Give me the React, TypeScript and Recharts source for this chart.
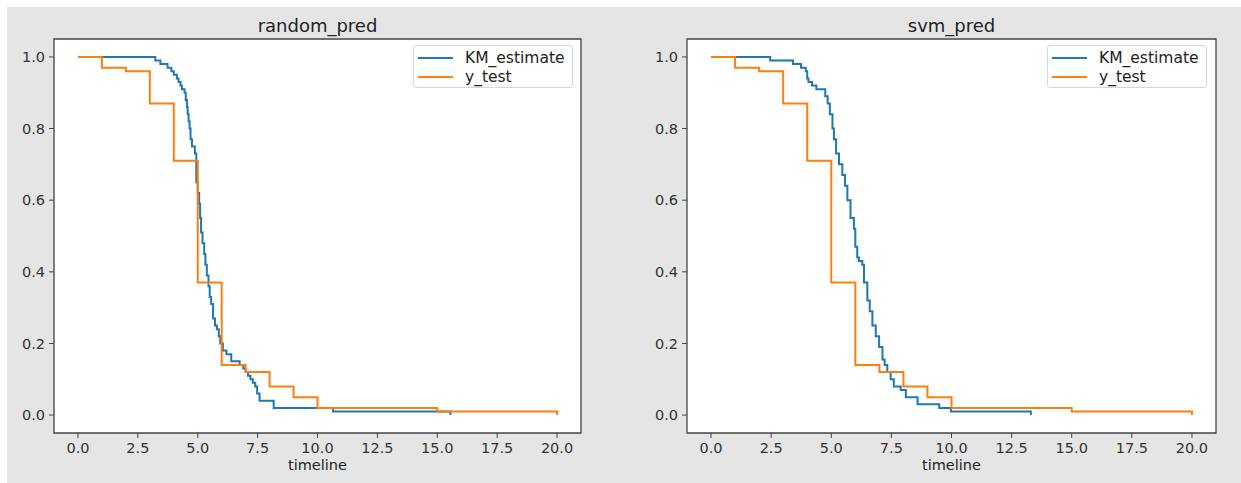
import { CartesianGrid, Legend, Line, LineChart, ReferenceArea, XAxis, YAxis } from 'recharts';

// y_test survival curve (same in both panels)
const yTestTime = [0, 1, 2, 3, 4, 5, 6, 7, 8, 9, 10, 15, 20];
const yTestSurv = [1.0, 0.97, 0.96, 0.87, 0.71, 0.37, 0.14, 0.12, 0.08, 0.05, 0.02, 0.01, 0.0];

// KM estimate from random forest predictions
const rfTime = [
  0, 3.23, 3.44, 3.74, 3.9, 4.0, 4.13, 4.2, 4.28, 4.34, 4.45, 4.5, 4.55, 4.58, 4.62, 4.66, 4.7,
  4.76, 4.88, 4.94, 5.0, 5.06, 5.1, 5.14, 5.2, 5.27, 5.32, 5.38, 5.45, 5.5, 5.56, 5.64, 5.72, 5.8,
  5.88, 5.94, 6.05, 6.2, 6.4, 6.75, 6.9, 7.0, 7.1, 7.2, 7.3, 7.4, 7.48, 7.58, 8.17, 10.65, 15.55,
];
const rfSurv = [
  1.0, 0.99, 0.98, 0.97, 0.96, 0.95, 0.94, 0.93, 0.92, 0.91, 0.9, 0.88, 0.86, 0.84, 0.82, 0.8, 0.77,
  0.75, 0.73, 0.65, 0.62, 0.59, 0.55, 0.51, 0.48, 0.45, 0.42, 0.39, 0.36, 0.33, 0.31, 0.27, 0.25, 0.24,
  0.22, 0.2, 0.18, 0.17, 0.15, 0.14, 0.13, 0.12, 0.11, 0.1, 0.09, 0.08, 0.06, 0.04, 0.02, 0.01, 0.0,
];

// KM estimate from svm predictions
const svmTime = [
  0, 2.46, 3.41, 3.74, 3.94, 4.0, 4.05, 4.2, 4.38, 4.75, 4.85, 4.94, 5.05, 5.11, 5.2, 5.32, 5.46,
  5.57, 5.67, 5.8, 5.94, 6.0, 6.08, 6.15, 6.29, 6.36, 6.5, 6.6, 6.71, 6.85, 6.99, 7.13, 7.22, 7.33,
  7.47, 7.6, 7.89, 8.1, 8.59, 9.49, 9.98, 13.3,
];
const svmSurv = [
  1.0, 0.99, 0.98, 0.97, 0.96, 0.94, 0.93, 0.92, 0.91, 0.89, 0.87, 0.84, 0.8, 0.77, 0.73, 0.7, 0.67,
  0.64, 0.6, 0.55, 0.52, 0.47, 0.44, 0.43, 0.42, 0.37, 0.32, 0.29, 0.25, 0.22, 0.19, 0.155, 0.14, 0.12,
  0.1, 0.08, 0.07, 0.05, 0.03, 0.02, 0.01, 0.0,
];

const xTicks = [0, 2.5, 5, 7.5, 10, 12.5, 15, 17.5, 20];
const yTicks = [0, 0.2, 0.4, 0.6, 0.8, 1.0];

const BLUE = '#1f77b4';
const ORANGE = '#ff7f0e';
const FONT = '"DejaVu Sans", sans-serif';
const TICK = { fontSize: 14.5, fill: '#333', fontFamily: FONT };

const toPoints = (t: number[], s: number[]) => t.map((x, i) => ({ x, y: s[i] }));

function LegendBox({ payload }: any) {
  return (
    <div
      style={{
        width: 160,
        height: 43,
        boxSizing: 'border-box',
        border: '1px solid #d6d6d6',
        borderRadius: 3,
        background: 'rgba(255,255,255,0.85)',
        padding: '2px 0 0 4px',
        fontFamily: FONT,
        fontSize: 15.5,
        color: '#222',
        textAlign: 'left',
      }}
    >
      {(payload || []).map((p: any) => (
        <div key={p.value} style={{ display: 'flex', alignItems: 'center', height: 19.3 }}>
          <span style={{ display: 'inline-block', width: 35, height: 2, background: p.color, marginRight: 12 }} />
          <span>{p.value}</span>
        </div>
      ))}
    </div>
  );
}

interface PanelProps {
  title: string;
  km: { x: number; y: number }[];
  left: number;
  width: number;
  marginLeft: number;
  marginRight: number;
  legendLeft: number;
}

function Panel({ title, km, left, width, marginLeft, marginRight, legendLeft }: PanelProps) {
  const plotLeft = marginLeft + 44;
  const plotRight = width - marginRight;
  return (
    <div style={{ position: 'absolute', left, top: 0, width, height: 483 }}>
      <div
        style={{
          position: 'absolute',
          left: plotLeft,
          width: plotRight - plotLeft,
          top: 15,
          textAlign: 'center',
          fontFamily: FONT,
          fontSize: 18,
          color: '#222',
        }}
      >
        {title}
      </div>
      <LineChart
        width={width}
        height={483}
        margin={{ top: 39, right: marginRight, left: marginLeft, bottom: 0 }}
      >
        <CartesianGrid horizontal={false} vertical={false} fill="#fff" />
        <XAxis
          type="number"
          dataKey="x"
          domain={[-1, 21]}
          allowDataOverflow
          ticks={xTicks}
          tickFormatter={(v: number) => v.toFixed(1)}
          tick={TICK}
          tickSize={5}
          tickMargin={5}
          tickLine={{ stroke: '#444' }}
          axisLine={false}
          height={50}
          label={{ value: 'timeline', position: 'insideBottom', offset: 13, style: { ...TICK, fill: '#222' } }}
        />
        <YAxis
          type="number"
          dataKey="y"
          domain={[-0.05, 1.05]}
          allowDataOverflow
          ticks={yTicks}
          tickFormatter={(v: number) => v.toFixed(1)}
          tick={TICK}
          tickSize={5}
          tickMargin={4}
          tickLine={{ stroke: '#444' }}
          axisLine={false}
          width={44}
        />
        <ReferenceArea x1={-1} x2={21} y1={-0.05} y2={1.05} fill="none" fillOpacity={0} stroke="#444" strokeWidth={1.3} />
        <Legend
          layout="horizontal"
          verticalAlign="middle"
          align="center"
          content={<LegendBox />}
          wrapperStyle={{ position: 'absolute', top: 45, left: legendLeft, width: 160, height: 43 }}
        />
        <Line
          data={km}
          dataKey="y"
          name="KM_estimate"
          type="stepAfter"
          stroke={BLUE}
          strokeWidth={2}
          dot={false}
          isAnimationActive={false}
        />
        <Line
          data={toPoints(yTestTime, yTestSurv)}
          dataKey="y"
          name="y_test"
          type="stepAfter"
          stroke={ORANGE}
          strokeWidth={2}
          dot={false}
          isAnimationActive={false}
        />
      </LineChart>
    </div>
  );
}

export default function App() {
  return (
    <div style={{ position: 'absolute', left: 0, top: 0, width: 1241, height: 483, background: '#fff' }}>
      <div style={{ position: 'absolute', left: 7, top: 7, width: 1234, height: 476, background: '#e5e5e5' }} />
      <Panel
        title="random_pred"
        km={toPoints(rfTime, rfSurv)}
        left={0}
        width={620}
        marginLeft={10}
        marginRight={39}
        legendLeft={413}
      />
      <Panel
        title="svm_pred"
        km={toPoints(svmTime, svmSurv)}
        left={620}
        width={621}
        marginLeft={23}
        marginRight={25}
        legendLeft={427}
      />
    </div>
  );
}
